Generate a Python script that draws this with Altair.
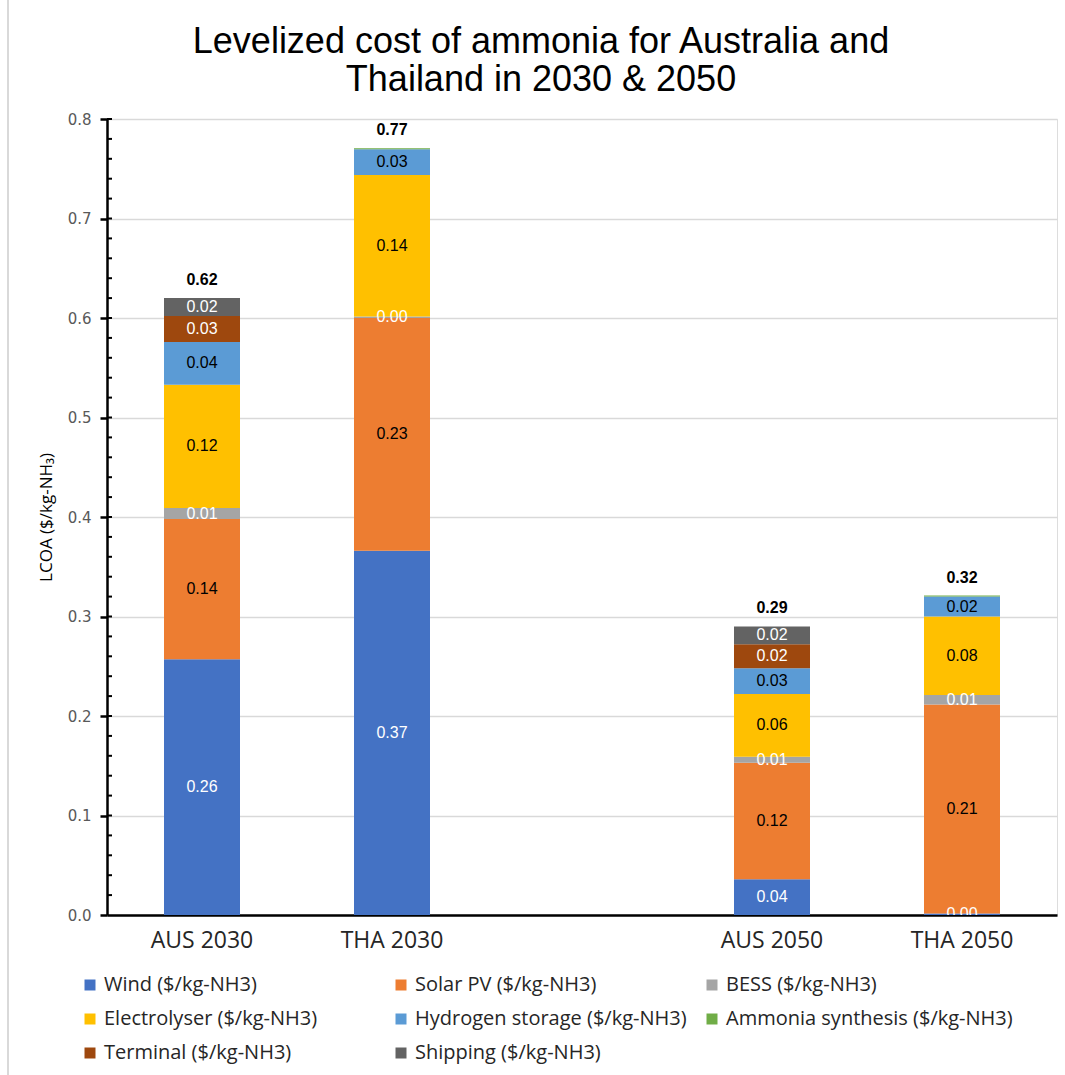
import altair as alt
import pandas as pd

# Levelized cost of ammonia (LCOA) breakdown, $/kg-NH3
scenarios = ["AUS 2030", "THA 2030", "AUS 2050", "THA 2050"]
x_domain = ["AUS 2030", "THA 2030", " ", "AUS 2050", "THA 2050"]

components = [
    "Wind ($/kg-NH3)",
    "Solar PV ($/kg-NH3)",
    "BESS ($/kg-NH3)",
    "Electrolyser ($/kg-NH3)",
    "Hydrogen storage ($/kg-NH3)",
    "Ammonia synthesis ($/kg-NH3)",
    "Terminal ($/kg-NH3)",
    "Shipping ($/kg-NH3)",
]
colors = ["#4472C4", "#ED7D31", "#A5A5A5", "#FFC000",
          "#5B9BD5", "#70AD47", "#9E480E", "#636363"]

wind = [0.257, 0.366, 0.036, 0.0016]
solar_pv = [0.141, 0.234, 0.117, 0.210]
bess = [0.011, 0.0016, 0.006, 0.0094]
electrolyser = [0.124, 0.142, 0.063, 0.079]
hydrogen_storage = [0.043, 0.026, 0.026, 0.020]
ammonia_synthesis = [0.0, 0.001, 0.0, 0.001]
terminal = [0.026, 0.0, 0.024, 0.0]
shipping = [0.018, 0.0, 0.018, 0.0]

series = [wind, solar_pv, bess, electrolyser, hydrogen_storage,
          ammonia_synthesis, terminal, shipping]

# segments whose value label is printed in white
white_label = {"Wind ($/kg-NH3)", "BESS ($/kg-NH3)",
               "Terminal ($/kg-NH3)", "Shipping ($/kg-NH3)"}
unlabelled = {"Ammonia synthesis ($/kg-NH3)"}

rows = []
for ci, (comp, vals) in enumerate(zip(components, series)):
    for s, v in zip(scenarios, vals):
        rows.append({"scenario": s, "component": comp, "order": ci, "value": v,
                     "label_white": comp in white_label,
                     "labelled": (comp not in unlabelled) and v > 0})
df = pd.DataFrame(rows)

minor_ticks = [round(0.02 * i, 2) for i in range(1, 41)]

FONT_UI = "Open Sans"
FONT_NUM = "Liberation Sans"

x_enc = alt.X("scenario:N", scale=alt.Scale(domain=x_domain, paddingInner=0.6, paddingOuter=0.3),
              sort=x_domain,
              axis=alt.Axis(title=None, ticks=False, labelAngle=0, labelFont=FONT_UI,
                            labelFontSize=23, labelColor="#262626", labelPadding=14,
                            domainColor="black", domainWidth=2.5))
y_scale = alt.Scale(domain=[0, 0.8], nice=False)

base = alt.Chart(df).transform_stack(
    stack="value", groupby=["scenario"], sort=[alt.SortField("order")], as_=["y0", "y1"]
).transform_calculate(mid="(datum.y0 + datum.y1) / 2")

bars = base.mark_bar(clip=True).encode(
    x=x_enc,
    y=alt.Y("y0:Q", scale=y_scale,
            axis=alt.Axis(title="LCOA ($/kg-NH₃)", values=[0, 0.1, 0.2, 0.3, 0.4, 0.5, 0.6, 0.7, 0.8],
                          format=".1f", labelFont="DejaVu Sans", labelFontSize=15,
                          labelColor="#595959", labelPadding=9, tickSize=7, tickColor="black",
                          tickWidth=2.5, domainColor="black", domainWidth=2.5,
                          gridColor="#D9D9D9", gridWidth=1.5, titleFont=FONT_UI,
                          titleFontSize=17, titleFontWeight="normal", titleColor="black",
                          titlePadding=12)),
    y2="y1:Q",
    color=alt.Color("component:N", sort=components,
                    scale=alt.Scale(domain=components, range=colors),
                    legend=alt.Legend(title=None, orient="none", legendX=-27, legendY=856,
                                      direction="horizontal", columns=3, gridAlign="all",
                                      columnPadding=0, rowPadding=14, symbolType="square",
                                      symbolSize=121, symbolStrokeWidth=0, labelFont=FONT_UI,
                                      labelFontSize=20, labelColor="#262626",
                                      labelLimit=400, symbolOffset=0)),
    order=alt.Order("order:Q"),
)

labelled = base.transform_filter("datum.labelled")
labels_white = labelled.transform_filter("datum.label_white").mark_text(
    font=FONT_NUM, fontSize=16, color="white", baseline="middle", clip=True
).encode(x=alt.X("scenario:N", sort=x_domain), y=alt.Y("mid:Q"), text=alt.Text("value:Q", format=".2f"))
labels_black = labelled.transform_filter("!datum.label_white").mark_text(
    font=FONT_NUM, fontSize=16, color="black", baseline="middle", clip=True
).encode(x=alt.X("scenario:N", sort=x_domain), y=alt.Y("mid:Q"), text=alt.Text("value:Q", format=".2f"))

totals = alt.Chart(df).transform_aggregate(
    total="sum(value)", groupby=["scenario"]
).mark_text(font=FONT_NUM, fontSize=16, fontWeight="bold", color="black",
            baseline="bottom", dy=-10).encode(
    x=alt.X("scenario:N", sort=x_domain), y=alt.Y("total:Q"),
    text=alt.Text("total:Q", format=".2f"))

# minor ticks on the inner side of the value axis
minor = alt.Chart(pd.DataFrame({"t": minor_ticks})).mark_rule(
    color="black", strokeWidth=2).encode(
    x=alt.value(0), x2=alt.value(5), y=alt.Y("t:Q"))

# light frame line at the left edge of the figure
frame = alt.Chart(pd.DataFrame({"t": [0]})).mark_rule(
    color="#D9D9D9", strokeWidth=2, clip=False).encode(
    x=alt.value(-99), x2=alt.value(-99), y=alt.value(-119), y2=alt.value(956))

# the frame line reaches the top edge, so the title is pulled back down below it
chart = alt.layer(frame, bars, minor, labels_white, labels_black, totals).properties(
    width=950, height=796,
    autosize=alt.AutoSizeParams(type="none"),
    padding={"left": 107, "top": 119, "right": 8, "bottom": 160},
    title=alt.TitleParams(
        ["Levelized cost of ammonia for Australia and", "Thailand in 2030 & 2050"],
        font=FONT_NUM, fontSize=36, fontWeight="normal", color="black",
        anchor="middle", frame="group", dx=-41, offset=-100, lineHeight=38),
).configure_view(stroke=None).configure(background="white")

chart.save("out.html", embed_options={"renderer": "svg", "actions": False})
